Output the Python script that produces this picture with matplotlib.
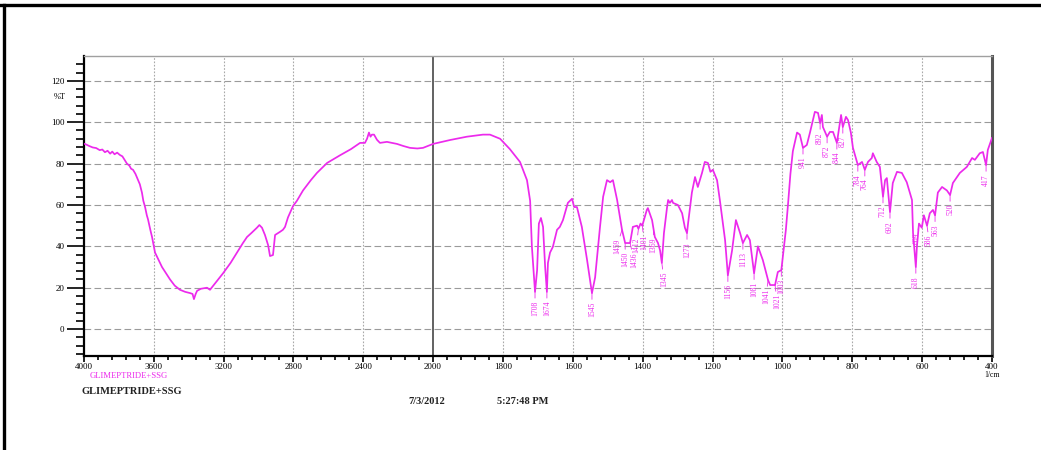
import numpy as np
import matplotlib.pyplot as plt
from matplotlib.lines import Line2D

# %T spectrum, wavenumber (1/cm) vs transmittance
wavenumber = [
    3995, 3970, 3950, 3930, 3910, 3895, 3880, 3865, 3850, 3838, 3825, 3810, 3795,
    3780, 3765, 3754, 3740, 3730, 3719, 3705, 3690, 3680, 3668, 3660, 3650, 3640,
    3633, 3620, 3610, 3593, 3570, 3553, 3530, 3507, 3480, 3450, 3420, 3392, 3378,
    3370, 3360, 3352, 3330, 3295, 3278, 3250, 3203, 3160, 3123, 3090, 3066, 3040,
    3009, 2995, 2980, 2963, 2945, 2934, 2917, 2905, 2877, 2860, 2848, 2831, 2802,
    2780, 2745, 2700, 2665, 2607, 2533, 2470, 2418, 2390, 2378, 2367, 2358, 2350,
    2338, 2321, 2304, 2264, 2206, 2170, 2132, 2090, 2057, 2000, 1951, 1903, 1857,
    1837, 1808, 1780, 1751, 1731, 1722, 1717, 1708, 1702, 1697, 1691, 1685, 1679,
    1674, 1671, 1665, 1657, 1645, 1637, 1628, 1614, 1602, 1596, 1588, 1574, 1559,
    1545, 1536, 1522, 1513, 1502, 1493, 1485, 1473, 1459, 1450, 1436, 1428, 1416,
    1412, 1406, 1401, 1394, 1388, 1385, 1373, 1365, 1356, 1350, 1345, 1339, 1330,
    1327, 1322, 1316, 1313, 1299, 1287, 1279, 1273, 1270, 1259, 1250, 1242, 1230,
    1222, 1213, 1206, 1199, 1187, 1179, 1164, 1156, 1144, 1133, 1121, 1113, 1101,
    1093, 1081, 1070, 1056, 1041, 1035, 1021, 1013, 1003, 998, 990, 984, 977, 970,
    958, 950, 941, 930, 921, 907, 898, 892, 887, 884, 872, 864, 855, 844, 832, 827,
    818, 812, 804, 798, 792, 784, 772, 764, 755, 744, 741, 730, 721, 712, 706, 701,
    692, 684, 672, 658, 644, 629, 626, 618, 615, 609, 601, 595, 586, 578, 569, 563,
    555, 543, 529, 520, 512, 492, 472, 457, 449, 435, 426, 417, 412, 400,
]
transmittance = [
    89.5, 88.5, 87.8, 87.5, 86.5, 86.8, 85.5, 86.2, 84.8, 85.8, 84.5, 85.3, 84.2,
    83.5, 81.5, 80.0, 79.0, 77.5, 77.0, 75.0, 72.0, 70.0, 66.0, 62.0, 59.0, 55.0,
    53.0, 48.0, 44.5, 37.0, 33.0, 30.0, 27.0, 24.0, 21.0, 19.0, 18.0, 17.4, 17.0,
    14.5, 17.0, 18.5, 19.5, 20.0, 19.0, 22.0, 27.0, 32.0, 37.0, 41.5, 44.5, 46.5,
    49.0, 50.3, 49.0, 45.5, 40.6, 35.3, 35.8, 45.5, 47.0, 48.0, 49.4, 54.0, 59.5,
    62.0, 67.0, 72.0, 75.5, 80.3, 84.0, 87.0, 90.0, 90.0, 92.0, 95.0, 93.0, 94.0,
    94.0, 91.5, 90.0, 90.5, 89.5, 88.5, 87.6, 87.3, 87.6, 89.5, 91.4, 93.0, 94.0,
    94.0, 92.0, 87.0, 80.8, 72.0, 62.0, 40.0, 18.0, 28.5, 51.0, 53.7, 49.4, 30.0,
    18.0, 32.0, 37.0, 39.7, 48.0, 49.4, 52.7, 61.0, 63.0, 59.0, 59.0, 49.4, 33.4,
    17.4, 25.0, 49.4, 64.0, 72.0, 71.0, 72.0, 62.4, 48.0, 41.6, 41.6, 49.4, 50.0,
    48.5, 51.0, 50.0, 54.0, 57.6, 58.5, 52.7, 44.5, 41.6, 38.0, 32.0, 46.4, 59.0,
    62.4, 61.0, 62.4, 61.0, 60.0, 56.0, 49.0, 46.4, 51.0, 66.0, 73.5, 68.7, 75.5,
    80.8, 80.3, 76.0, 77.0, 72.0, 62.4, 43.0, 26.0, 38.0, 52.7, 46.4, 41.6, 45.5,
    43.0, 27.0, 40.0, 33.4, 23.7, 21.3, 21.3, 27.6, 28.5, 36.0, 48.0, 60.0, 75.0, 86.0,
    95.0, 94.0, 87.6, 89.0, 95.0, 105.0, 104.5, 99.6, 103.5, 97.7, 93.0, 95.3, 95.3, 90.0, 103.5, 97.7,
    102.6, 101.0, 95.0, 87.6, 84.0, 79.3, 80.8, 77.0, 80.8, 82.7, 85.0, 80.8, 78.4, 64.0, 72.0, 73.0,
    56.6, 70.6, 76.0, 75.5, 71.0, 62.4, 46.4, 30.0, 39.7, 51.0, 49.0, 55.0, 50.0, 56.0, 57.6, 55.0,
    66.0, 68.7, 67.0, 64.8, 70.6, 75.5, 78.4, 82.7, 81.8, 85.0, 85.6, 79.3, 86.6, 92.4,
]

# picked peaks (1/cm) and sideways nudge of their label in pixels
peaks = [1708, 1674, 1545, 1459, 1450, 1436, 1412, 1401, 1369, 1345, 1273,
         1156, 1113, 1081, 1041, 1021, 1003, 941, 892, 872, 844, 827, 784,
         764, 712, 692, 618, 609, 586, 563, 520, 417]
peak_nudge = [0, 0, 0, -5, 0, 4, -2, 2, 0, 2, 0,
              0, 0, 0, -2, 2, 0, 0, 0, 0, 0, 0, 0,
              0, 0, 0, 0, -2, 2, 0, 0, 0]

x_major = [4000, 3600, 3200, 2800, 2400, 2000, 1800, 1600, 1400, 1200,
           1000, 800, 600, 400]
y_major = [0, 20, 40, 60, 80, 100, 120]

magenta = '#ec2aec'
serif = 'Liberation Serif'


# two linear pieces: 4000-2000 on the left part, 2000-400 stretched on the right
def fwd(w):
    w = np.asarray(w, dtype=float)
    return np.where(w <= 2000, (w - 400) * 559 / 1600, 559 + (w - 2000) * 349 / 2000)


def inv(p):
    p = np.asarray(p, dtype=float)
    return np.where(p <= 559, 400 + p * 1600 / 559, 2000 + (p - 559) * 2000 / 349)


fig = plt.figure(figsize=(10.41, 4.5), dpi=100)
ax = fig.add_axes([84 / 1041, 94 / 450, 908 / 1041, 300 / 450])
ax.set_xscale('function', functions=(fwd, inv))
ax.set_xlim(4000, 400)
ax.set_ylim(-13, 132)

# grid
for y in y_major:
    ax.axhline(y, color='#9a9a9a', lw=0.8, ls=(0, (6, 3)), zorder=1)
for x in x_major[1:-1]:
    if x == 2000:
        ax.axvline(x, color='#555555', lw=1.3, zorder=1)
    else:
        ax.axvline(x, color='#a8a8a8', lw=0.8, ls=(0, (1.5, 1.5)), zorder=1)

ax.plot(wavenumber, transmittance, color=magenta, lw=1.25, zorder=3)

# peak markers with vertical wavenumber labels
wn_asc = np.array(wavenumber[::-1])
t_asc = np.array(transmittance[::-1])
for pk, dx in zip(peaks, peak_nudge):
    t = np.interp(pk, wn_asc, t_asc)
    ax.annotate(str(pk), xy=(pk, t), xytext=(dx, -9), textcoords='offset pixels',
                rotation=90, ha='center', va='top', fontsize=5.5, color=magenta,
                family=serif,
                arrowprops=dict(arrowstyle='-', color=magenta, lw=0.6,
                                shrinkA=0, shrinkB=0),
                zorder=4)

# ticks
minor_x = [v for v in np.arange(4000, 2000, -80)] + [v for v in np.arange(2000, 399, -40)]
minor_x = [v for v in minor_x if v not in x_major]
ax.set_xticks(x_major)
ax.set_xticks(minor_x, minor=True)
ax.set_xticklabels([str(v) for v in x_major], fontsize=6.5, family=serif)
ax.set_yticks(y_major)
ax.set_yticks([v for v in range(-12, 132, 4) if v not in y_major], minor=True)
ax.set_yticklabels([str(v) for v in y_major], fontsize=6.5, family=serif)
ax.tick_params(axis='y', which='major', direction='out', length=12, width=1.2, pad=2)
ax.tick_params(axis='y', which='minor', direction='out', length=6, width=1.2)
ax.tick_params(axis='x', which='major', direction='out', length=4, width=1.2, pad=1)
ax.tick_params(axis='x', which='minor', direction='out', length=3, width=1.2)

ax.spines['left'].set_linewidth(1.6)
ax.spines['bottom'].set_linewidth(1.6)
ax.spines['top'].set_color('#a0a0a0')
ax.spines['top'].set_linewidth(1.0)
ax.spines['right'].set_color('#555555')
ax.spines['right'].set_linewidth(2.2)

ax.text(-0.02, 112, '%T', transform=ax.get_yaxis_transform(), ha='right',
        va='center', fontsize=6, family=serif)
ax.text(400, -22, '1/cm', ha='center', va='center', fontsize=5.5, family=serif)

# captions under the plot
fig.text(90 / 1041, 1 - 376 / 450, 'GLIMEPTRIDE+SSG', color=magenta, fontsize=6.2,
         family=serif, va='center')
fig.text(82 / 1041, 1 - 391 / 450, 'GLIMEPTRIDE+SSG', color='#222222', fontsize=7.5,
         family=serif, weight='bold', va='center')
fig.text(408 / 1041, 1 - 402 / 450, '7/3/2012', color='#222222', fontsize=7.5,
         family=serif, weight='bold', va='center')
fig.text(497 / 1041, 1 - 402 / 450, '5:27:48 PM', color='#222222', fontsize=7.5,
         family=serif, weight='bold', va='center')

# page frame
fig.add_artist(Line2D([0.0, 1.0], [0.9878, 0.9878], transform=fig.transFigure,
                      color='black', lw=2.4))
fig.add_artist(Line2D([0.0038, 0.0038], [0.0, 0.99], transform=fig.transFigure,
                      color='black', lw=2.4))

fig.savefig('out.png', dpi=100)
